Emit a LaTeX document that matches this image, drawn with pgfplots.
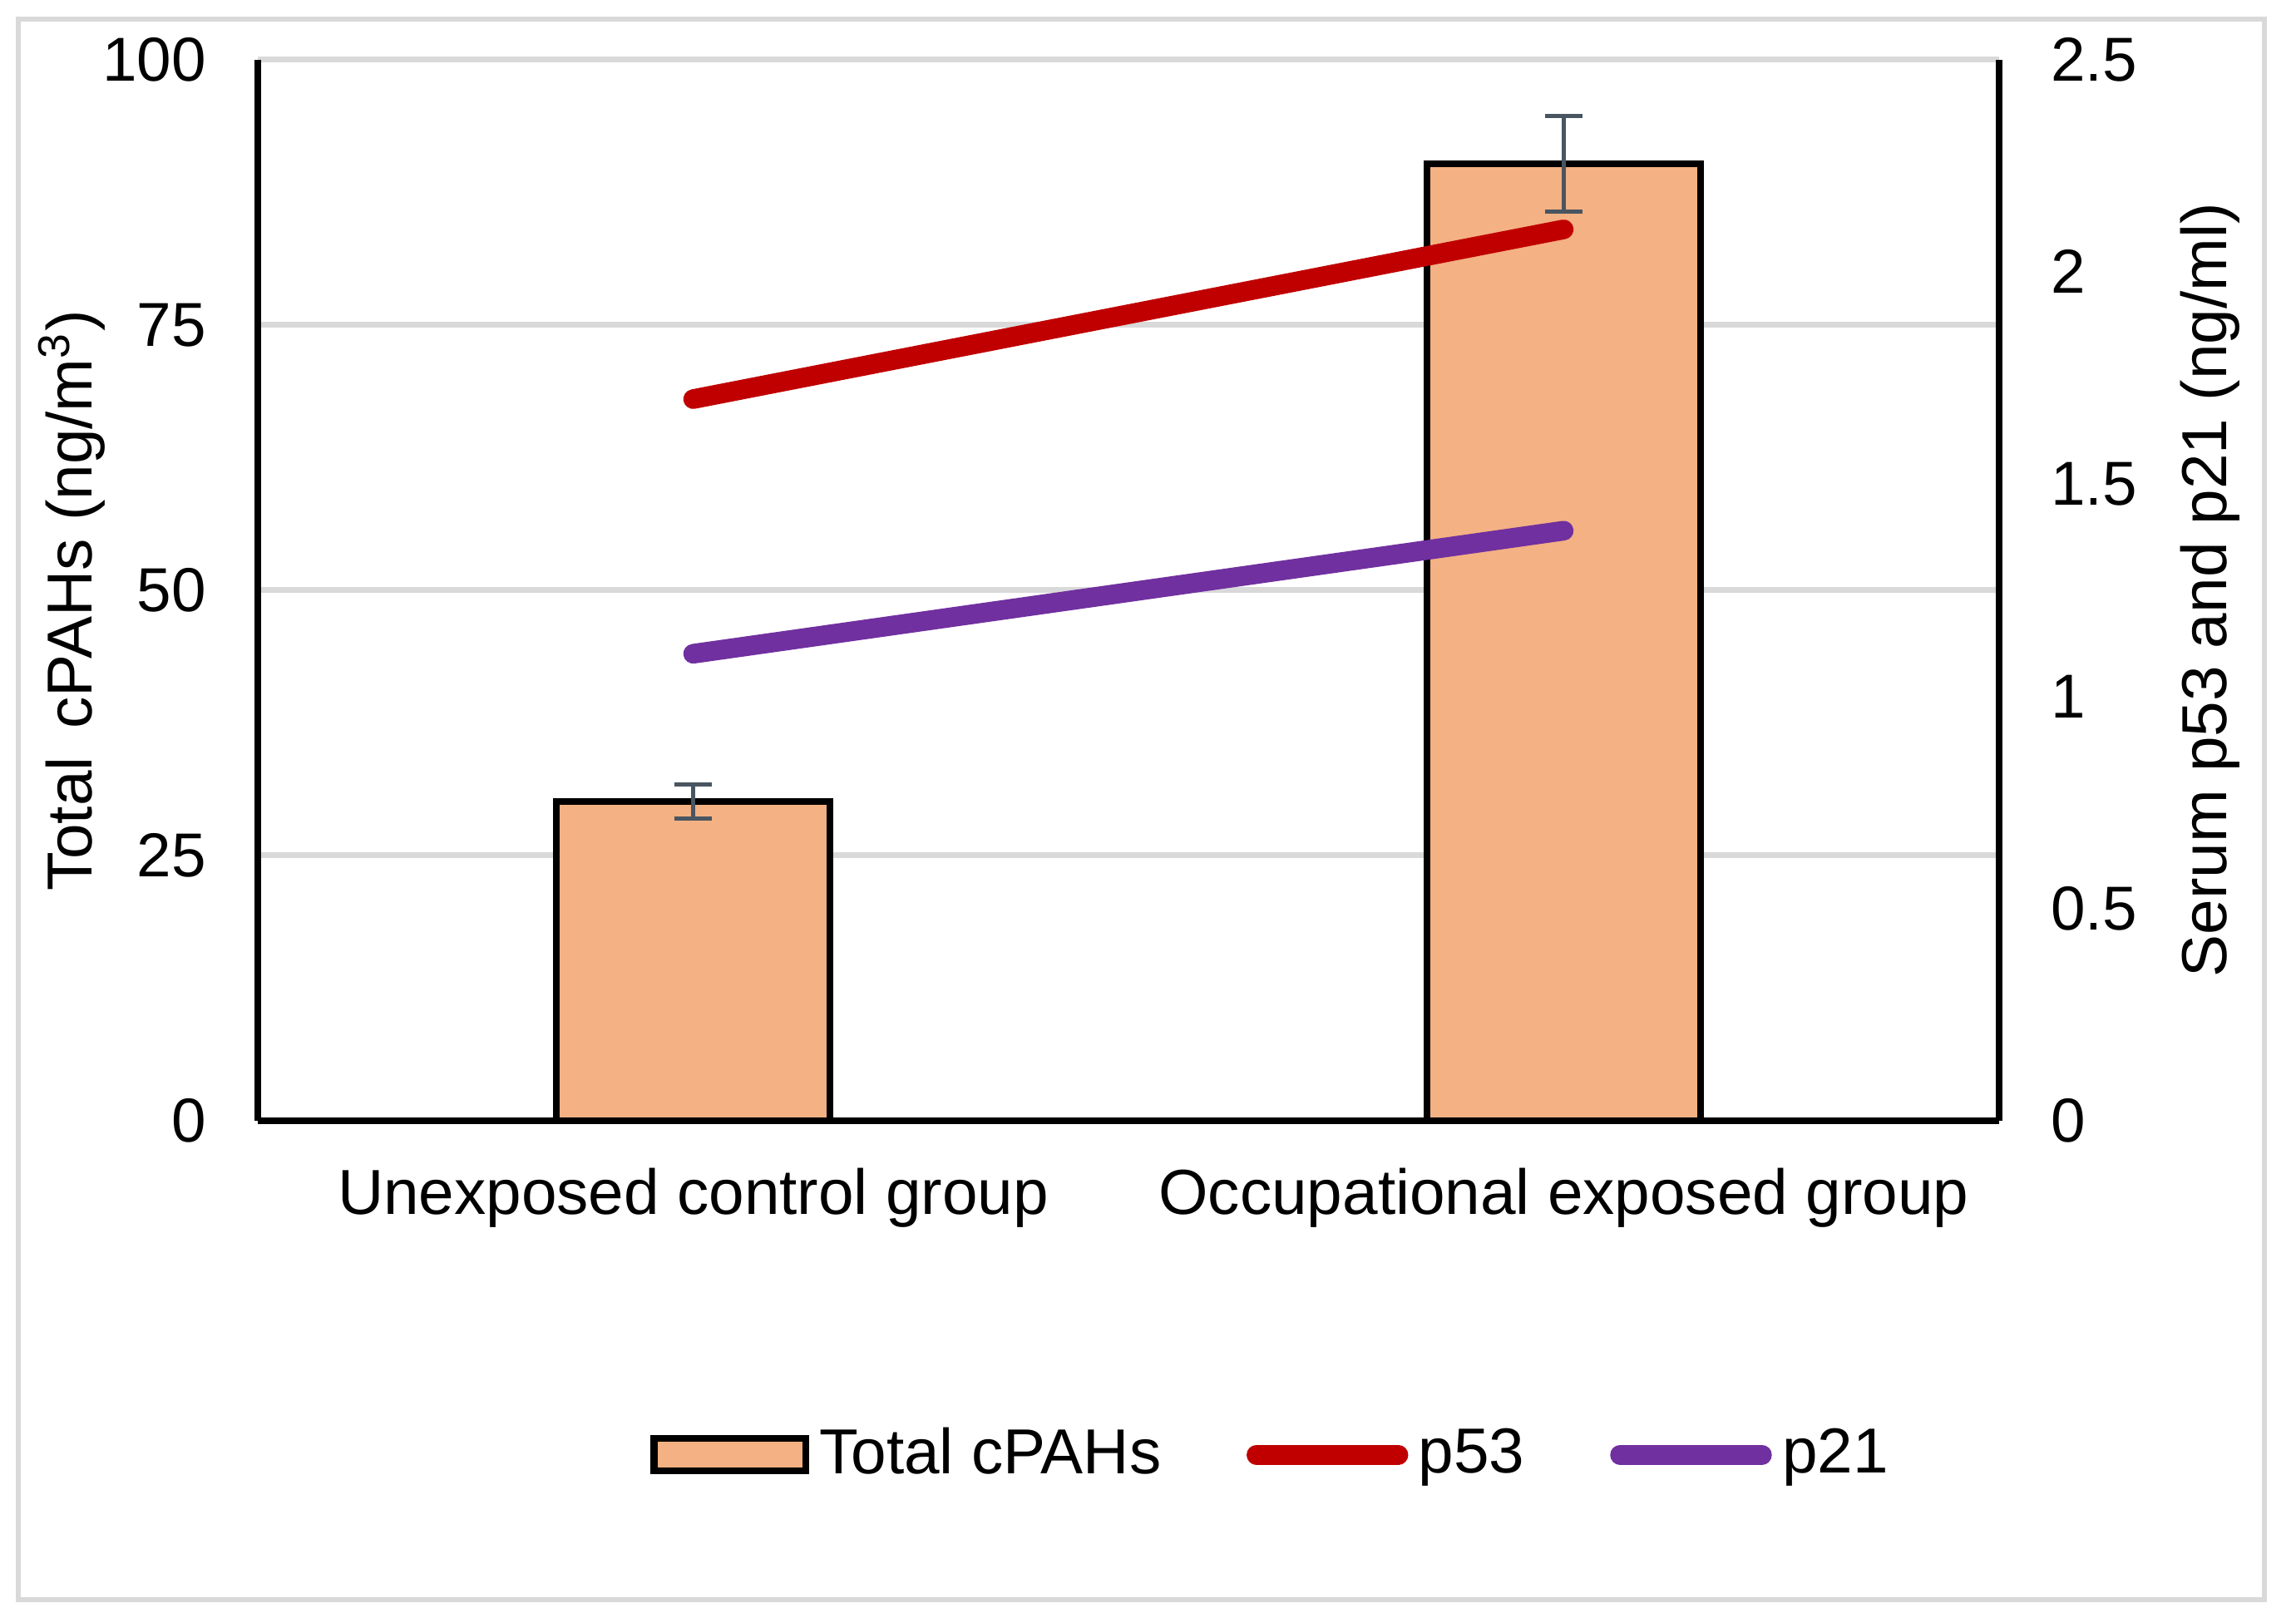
\documentclass[border=0pt]{standalone}
\usepackage{pgfplots}
\pgfplotsset{compat=1.18}
\usepackage{fontspec}
\setmainfont{Liberation Sans}

\definecolor{barfill}{HTML}{F4B183}
\definecolor{p53red}{HTML}{C00000}
\definecolor{p21purple}{HTML}{7030A0}
\definecolor{errgray}{HTML}{495561}
\definecolor{gridgray}{HTML}{D9D9D9}

\pgfplotsset{
    lineleg/.style={legend image code/.code={\draw[##1] (0.65mm,0mm) -- (10.3mm,0mm);}},
    barleg/.style={legend image code/.code={\draw[fill=barfill, draw=black, line width=1.3pt] (0mm,-1.1mm) rectangle (10.3mm,1.1mm);}},
}

\begin{document}
\begin{tikzpicture}
\useasboundingbox (-17.52mm,-33.07mm) rectangle (138.48mm,76.15mm);
\draw[gridgray, line width=1pt] (-16.27mm,-32.56mm) rectangle (136.34mm,74.85mm);

% left axis: bars
\begin{axis}[
    at={(0,0)}, anchor=south west,
    scale only axis, width=118.3mm, height=72.1mm,
    font=\fontsize{12}{14}\selectfont,
    /pgf/number format/assume math mode=true,
    xmin=-0.5, xmax=1.5, ymin=0, ymax=100,
    xtick={0,1},
    xticklabels={Unexposed control group, Occupational exposed group},
    ytick={0,25,50,75,100},
    axis x line*=bottom, axis y line*=left,
    axis line style={line width=1.3pt, black},
    major tick length=0pt,
    ymajorgrids, grid style={gridgray, line width=1.1pt},
    yticklabel style={xshift=-6.5pt},
    xticklabel style={yshift=-5.6pt, font=\fontsize{12.3}{14}\selectfont},
    ylabel={Total\, cPAHs (ng/m\textsuperscript{3})},
    ylabel style={at={(axis description cs:-0.107,0.49)}, anchor=center, rotate=0,
        font=\fontsize{12.3}{14}\selectfont},
]
\addplot[ybar, bar width=18.6mm, fill=barfill, draw=black, line width=1.3pt,
    error bars/.cd, y dir=both, y explicit,
    error bar style={line width=0.8pt, errgray},
    error mark options={rotate=90, mark size=1.27mm, line width=0.8pt, errgray}]
coordinates {
    (0,30.1) +- (0,1.6)
    (1,90.2) +- (0,4.5)
};
\end{axis}

% right axis: p53 and p21
\begin{axis}[
    at={(0,0)}, anchor=south west,
    scale only axis, width=118.3mm, height=72.1mm,
    font=\fontsize{12}{14}\selectfont,
    /pgf/number format/assume math mode=true,
    xmin=-0.5, xmax=1.5, ymin=0, ymax=2.5,
    ytick={0,0.5,1,1.5,2,2.5},
    axis x line=none, axis y line*=right,
    axis line style={line width=1.3pt, black},
    major tick length=0pt,
    yticklabel style={xshift=6.5pt},
    ylabel={Serum p53 and p21 (ng/ml)},
    ylabel style={at={(axis description cs:1.121,0.5)}, anchor=center, rotate=0,
        font=\fontsize{12.3}{14}\selectfont},
    legend columns=3,
    legend style={at={(axis description cs:0.584,-0.315)}, anchor=center,
        draw=none, fill=none, font=\fontsize{12.3}{14}\selectfont,
        /tikz/every even column/.append style={column sep=5.1mm}},
]
\addlegendimage{barleg}
\addlegendentry{Total cPAHs}
\addplot[p53red, line width=3.8pt, line cap=round, lineleg]
coordinates {(0,1.70) (1,2.10)};
\addlegendentry{p53}
\addplot[p21purple, line width=3.8pt, line cap=round, lineleg]
coordinates {(0,1.10) (1,1.39)};
\addlegendentry{p21}
\end{axis}
\end{tikzpicture}
\end{document}
